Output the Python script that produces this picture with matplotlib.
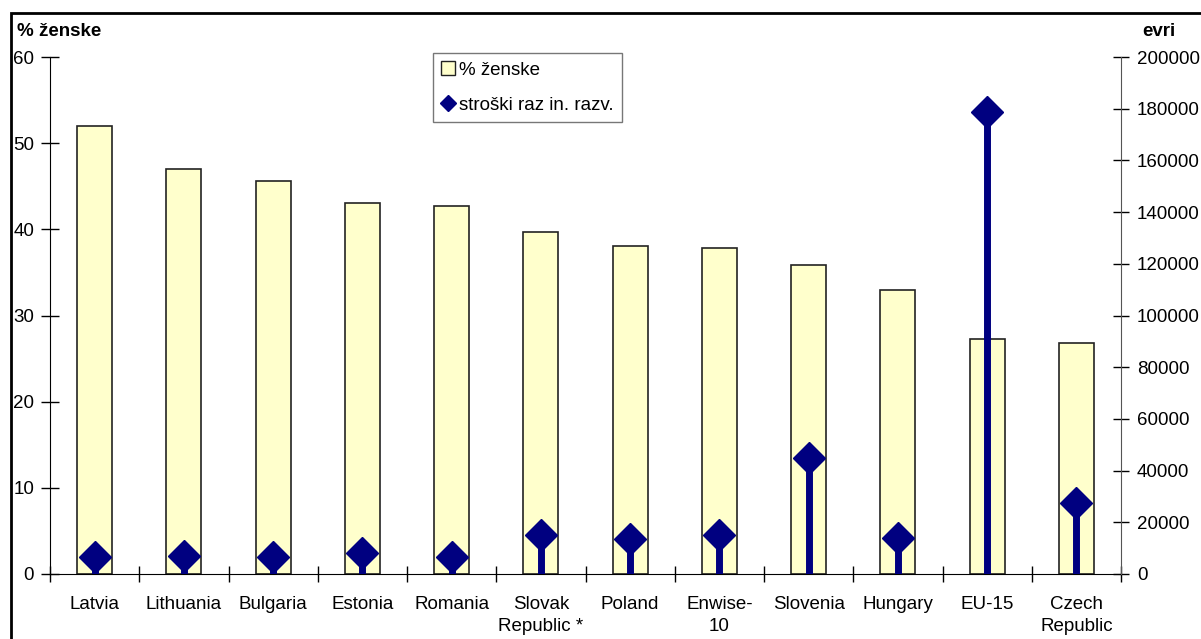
import matplotlib.pyplot as plt
from matplotlib.patches import Rectangle
from matplotlib.lines import Line2D
from matplotlib.patches import Patch

plt.rcParams['font.family'] = ['Liberation Sans', 'DejaVu Sans']

countries = ['Latvia', 'Lithuania', 'Bulgaria', 'Estonia', 'Romania', 'Slovak\nRepublic *',
             'Poland', 'Enwise-\n10', 'Slovenia', 'Hungary', 'EU-15', 'Czech\nRepublic']
women_pct = [52.0, 47.0, 45.6, 43.1, 42.7, 39.7, 38.1, 37.8, 35.9, 33.0, 27.3, 26.8]
rd_costs = [6500, 7000, 6500, 8000, 6500, 15000, 13500, 15000, 45000, 13800, 178800, 27600]

navy = '#000080'
fill = '#FFFFCC'
fs = 13.5

fig = plt.figure(figsize=(12.01, 6.39), dpi=100)
# frame round the whole chart
fig.patches.append(Rectangle((11 / 1201, -0.01), 1.0, 1 - 13 / 639 + 0.01, transform=fig.transFigure,
                             fill=False, edgecolor='black', linewidth=2))

ax = fig.add_axes([50 / 1201, 1 - 574 / 639, (1121 - 50) / 1201, (574 - 57) / 639])
x = list(range(len(countries)))
ax.bar(x, women_pct, width=0.39, color=fill, edgecolor='#222222', linewidth=1.2, zorder=2)
ax.set_xlim(-0.5, len(countries) - 0.5)
ax.set_ylim(0, 60)
ax.set_yticks(range(0, 61, 10))
ax.set_xticks([i + 0.5 for i in range(-1, len(countries))])
ax.set_xticklabels([])
ax.set_xticks(x, minor=True)
ax.set_xticklabels(countries, minor=True, fontsize=fs, linespacing=1.35)
ax.tick_params(axis='x', which='major', direction='inout', length=12, width=1)
ax.tick_params(axis='x', which='minor', length=0, pad=16)
ax.tick_params(axis='y', direction='inout', length=13, width=1, labelsize=fs, pad=5)
ax.spines['top'].set_visible(False)
ax.spines['right'].set_visible(False)

ax2 = ax.twinx()
ax2.set_ylim(0, 200000)
ax2.set_yticks(range(0, 200001, 20000))
ax2.vlines(x, 0, rd_costs, color=navy, linewidth=5, zorder=3)
ax2.plot(x, rd_costs, linestyle='none', marker='D', markersize=16, color=navy, zorder=4)
ax2.tick_params(axis='y', direction='inout', length=11, width=1, labelsize=fs, pad=6)
for s in ['top', 'left', 'bottom']:
    ax2.spines[s].set_visible(False)
ax2.spines['right'].set_color('#555555')

fig.text(17 / 1201, 1 - 31 / 639, '% ženske', fontsize=fs, fontweight='bold', va='center', ha='left')
fig.text(1159 / 1201, 1 - 31 / 639, 'evri', fontsize=fs, fontweight='bold', va='center', ha='center')

handles = [Patch(facecolor=fill, edgecolor='#222222', label='% ženske'),
           Line2D([], [], linestyle='none', marker='D', color=navy, markersize=8, label='stroški raz in. razv.')]
leg = fig.legend(handles=handles, loc='upper left', bbox_to_anchor=(433 / 1201, 1 - 53 / 639),
                 fontsize=fs, frameon=True, fancybox=False, edgecolor='#555555',
                 handlelength=0.7, handletextpad=0.25, borderpad=0.45, labelspacing=0.95,
                 borderaxespad=0)
leg.get_frame().set_linewidth(1)

fig.savefig('out.png', dpi=100)
